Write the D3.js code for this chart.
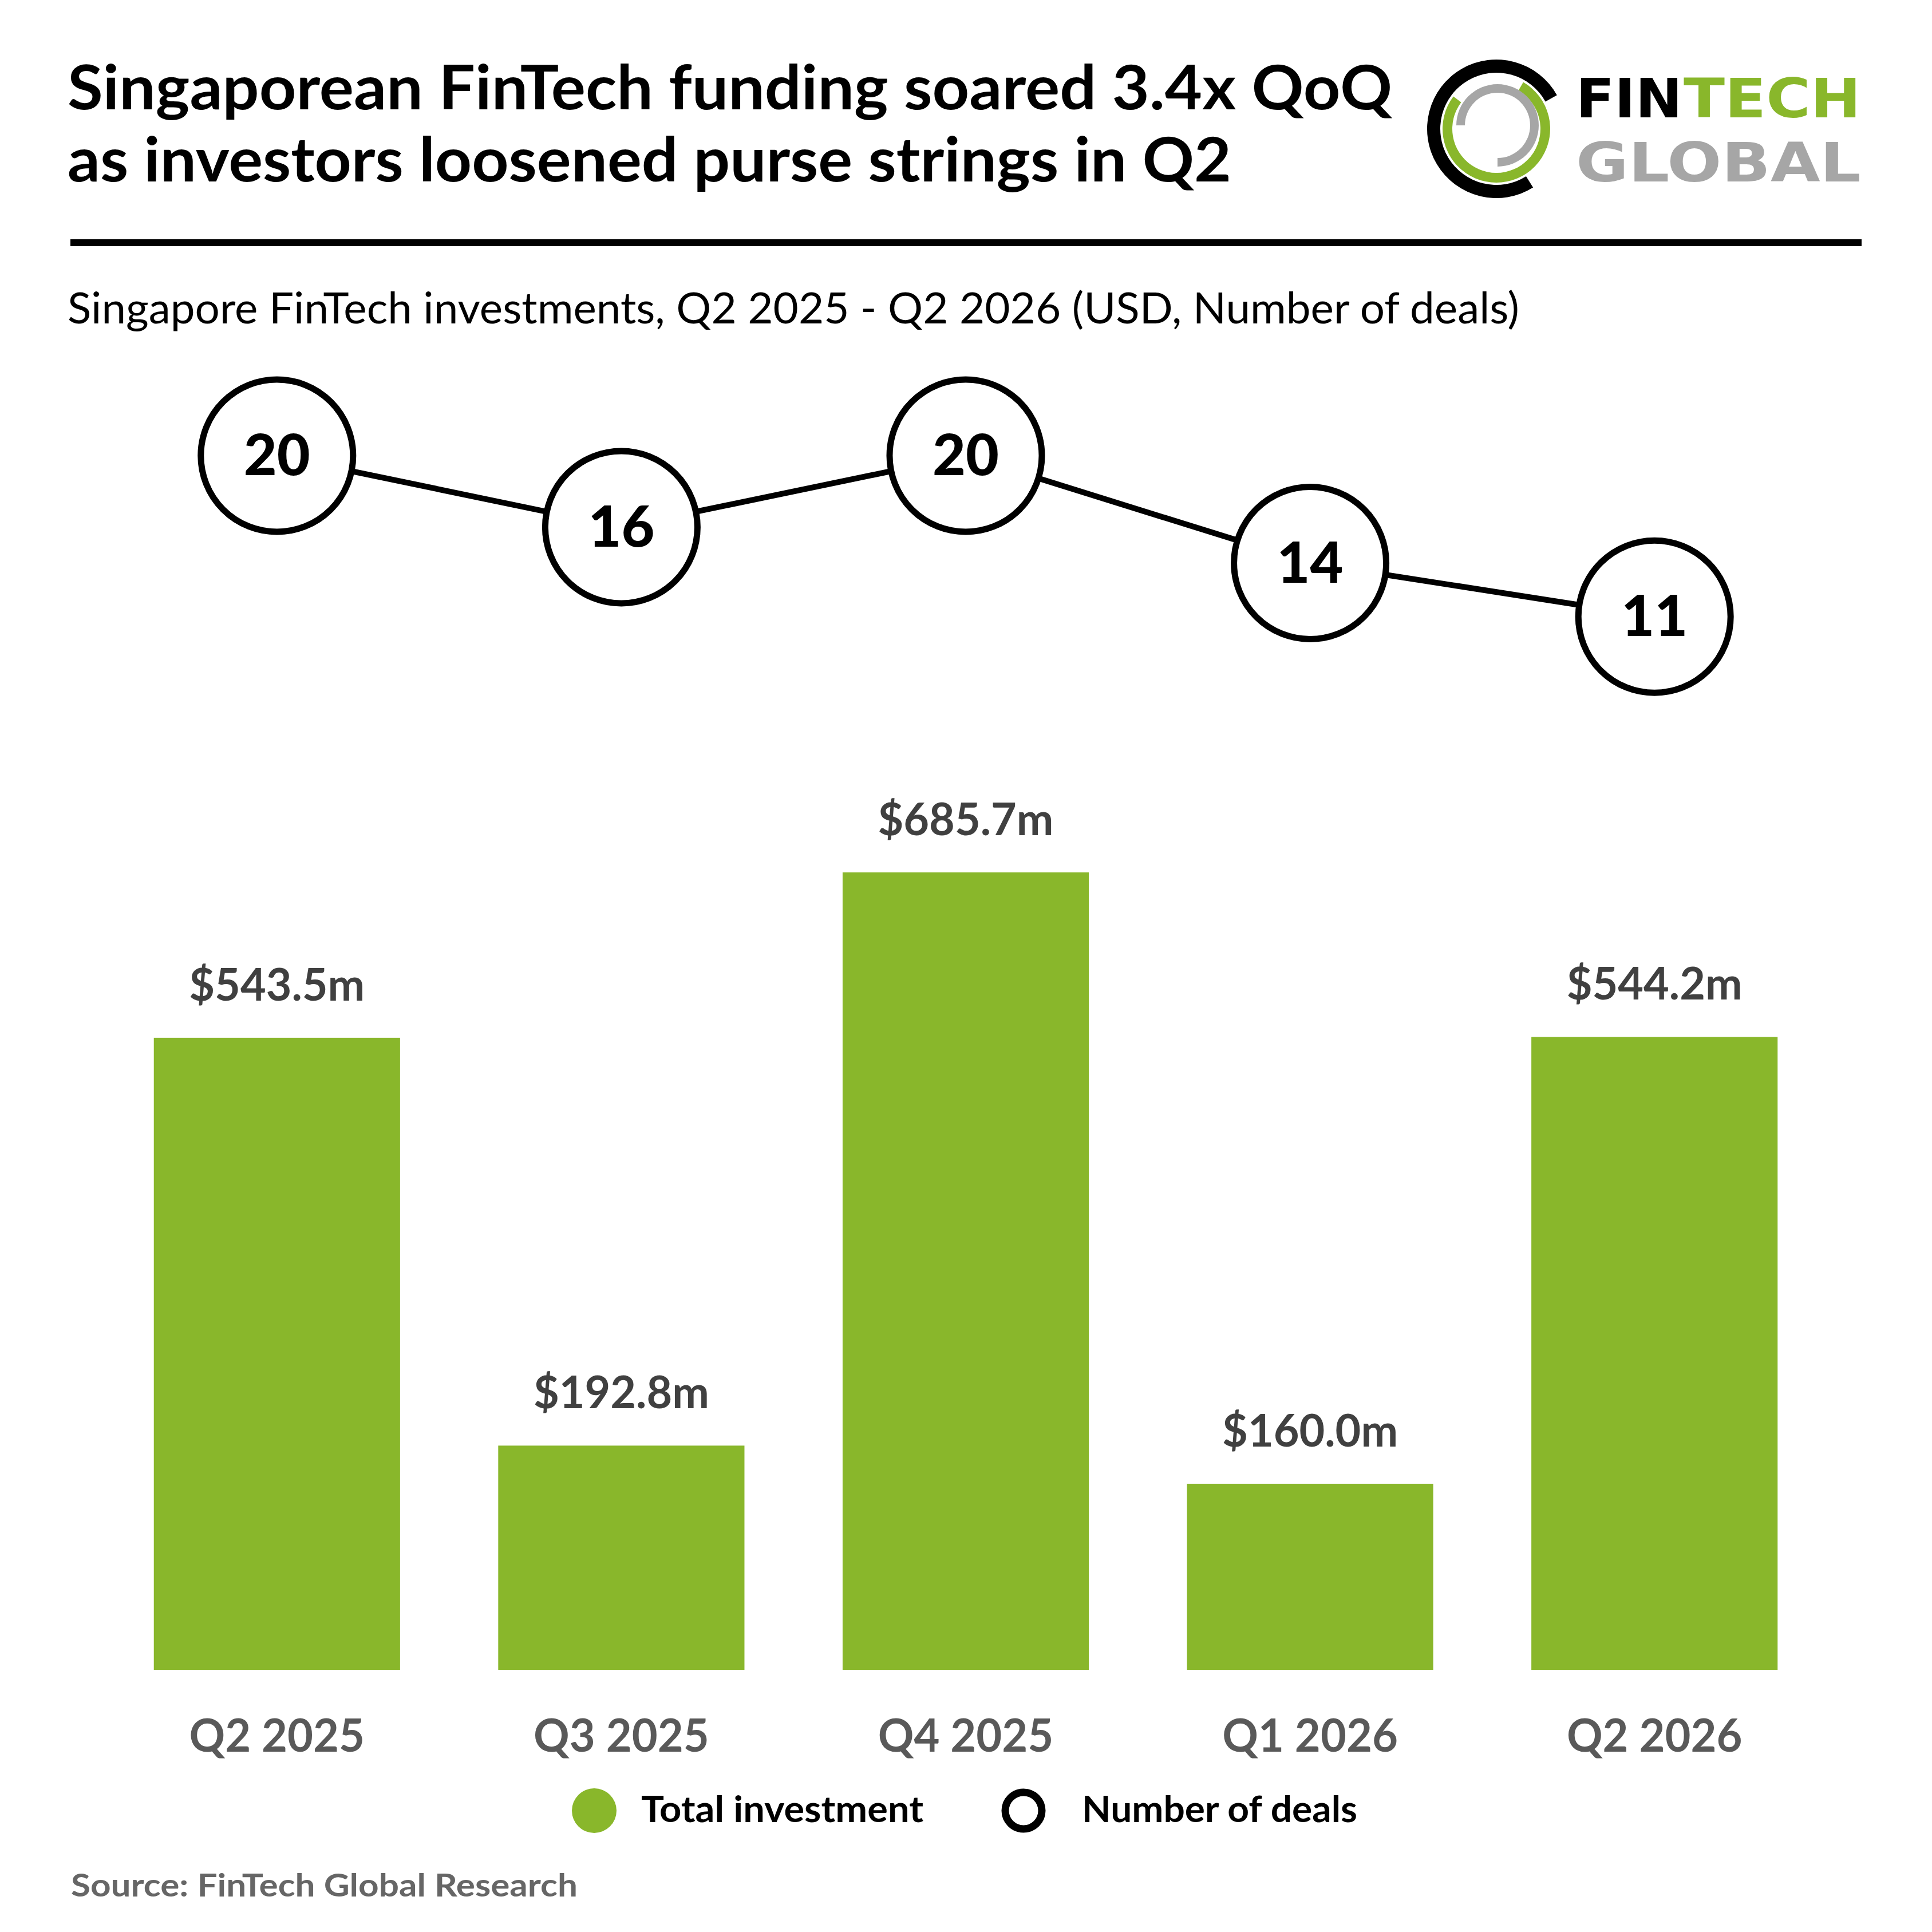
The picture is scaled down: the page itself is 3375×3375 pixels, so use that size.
<!DOCTYPE html>
<html>
<head>
<meta charset="utf-8">
<script src="https://cdn.jsdelivr.net/npm/d3@7"></script>
<style>
	body { margin: 0; background: #fff; }
	svg { display: block; }
</style>
</head>
<body>
<svg id="chart"></svg>
<script>
"use strict";

var quarters = ["Q2 2025", "Q3 2025", "Q4 2025", "Q1 2026", "Q2 2026"];
var investment = [543.5, 192.8, 685.7, 160.0, 544.2];
var deals = [20, 16, 20, 14, 11];
var titleLines = ["Singaporean FinTech funding soared 3.4x QoQ", "as investors loosened purse strings in Q2"];
var subtitle = "Singapore FinTech investments, Q2 2025 - Q2 2026 (USD, Number of deals)";
var legendItems = ["Total investment", "Number of deals"];
var source = "Source: FinTech Global Research";

var W = 3375, H = 3375,
	GREEN = "#89b72b",
	FONT = "Lato, 'Open Sans', sans-serif";

var svg = d3.select("#chart")
	.attr("width", W)
	.attr("height", H);

svg.append("rect")
	.attr("width", W)
	.attr("height", H)
	.attr("fill", "#fff");

/**
 * Squeeze a text selection horizontally to mimic a narrow font
 * @param  {Object} sel d3 selection of text nodes
 * @param  {Number} k   width factor
 * @return {Void}
 */
var squeeze = function (sel, k) {
	sel.each(function () {
		var w = this.getComputedTextLength();
		d3.select(this)
			.attr("textLength", w * k)
			.attr("lengthAdjust", "spacingAndGlyphs");
	});
};

// header
var title = svg.append("g").attr("class", "title");
title.selectAll("text")
	.data(titleLines)
	.join("text")
	.attr("x", 118)
	.attr("y", function (d, i) { return 191 + i * 126; })
	.attr("font-family", FONT)
	.attr("font-weight", 700)
	.attr("font-size", 107)
	.attr("fill", "#000")
	.attr("textLength", function (d, i) { return i === 0 ? 2314 : 2033; })
	.attr("lengthAdjust", "spacingAndGlyphs")
	.text(function (d) { return d; });

svg.append("rect")
	.attr("x", 123)
	.attr("y", 418)
	.attr("width", 3129)
	.attr("height", 12)
	.attr("fill", "#000");

svg.append("text")
	.attr("x", 118)
	.attr("y", 565)
	.attr("font-family", FONT)
	.attr("font-size", 75)
	.attr("fill", "#000")
	.attr("textLength", 2536)
	.attr("lengthAdjust", "spacingAndGlyphs")
	.text(subtitle);

// logo
var logo = svg.append("g").attr("transform", "translate(2614,225)");
var deg = Math.PI / 180;
var arc = d3.arc();
logo.append("path")
	.attr("d", arc({innerRadius: 98, outerRadius: 121, startAngle: 148 * deg, endAngle: 421 * deg}))
	.attr("fill", "#000");
logo.append("path")
	.attr("d", arc({innerRadius: 77, outerRadius: 94, startAngle: 30 * deg, endAngle: 307 * deg}))
	.attr("fill", GREEN);
logo.append("path")
	.attr("transform", "translate(2,-6)")
	.attr("d", arc({innerRadius: 57, outerRadius: 72, startAngle: -90 * deg, endAngle: 180 * deg}))
	.attr("fill", "#a6a6a6");

var logoWords = [
	{t: "FIN", x: 2753, y: 205, w: 186, c: "#000"},
	{t: "TECH", x: 2941, y: 205, w: 310, c: GREEN},
	{t: "GLOBAL", x: 2753, y: 317, w: 498, c: "#a6a6a6"}
];
svg.append("g")
	.selectAll("text")
	.data(logoWords)
	.join("text")
	.attr("x", function (d) { return d.x; })
	.attr("y", function (d) { return d.y; })
	.attr("font-family", "'DejaVu Sans', sans-serif")
	.attr("font-weight", 700)
	.attr("font-size", 95)
	.attr("fill", function (d) { return d.c; })
	.attr("textLength", function (d) { return d.w; })
	.attr("lengthAdjust", "spacingAndGlyphs")
	.text(function (d) { return d.t; });

// scales
var x = d3.scaleBand()
	.domain(quarters)
	.range([183, 3191])
	.paddingInner(0.285)
	.paddingOuter(0.1425);

var y = d3.scaleLinear()
	.domain([0, 685.7])
	.range([2917, 1524]);

var yDeals = d3.scaleLinear()
	.domain([0, 20])
	.range([1421, 796]);

var cx = function (d, i) { return x(quarters[i]) + x.bandwidth() / 2; };

// bars
svg.append("g")
	.selectAll("rect")
	.data(investment)
	.join("rect")
	.attr("x", function (d, i) { return x(quarters[i]); })
	.attr("y", function (d) { return y(d); })
	.attr("width", x.bandwidth())
	.attr("height", function (d) { return y(0) - y(d); })
	.attr("fill", GREEN);

var valueLabels = svg.append("g")
	.selectAll("text")
	.data(investment)
	.join("text")
	.attr("x", cx)
	.attr("y", function (d) { return y(d) - 65; })
	.attr("text-anchor", "middle")
	.attr("font-family", FONT)
	.attr("font-weight", 700)
	.attr("font-size", 78)
	.attr("fill", "#404040")
	.text(function (d) { return "$" + d3.format(".1f")(d) + "m"; });
squeeze(valueLabels, 0.99);

// x axis labels
var xAxis = svg.append("g")
	.attr("transform", "translate(0,3060)")
	.call(d3.axisBottom(x).tickSize(0).tickPadding(0));
xAxis.select(".domain").remove();
xAxis.selectAll("text")
	.attr("y", 0)
	.attr("dy", 0)
	.attr("font-family", FONT)
	.attr("font-weight", 700)
	.attr("font-size", 80)
	.attr("fill", "#595959");
squeeze(xAxis.selectAll("text"), 0.97);

// deals line + circles
var line = d3.line()
	.x(cx)
	.y(function (d) { return yDeals(d); });

svg.append("path")
	.datum(deals)
	.attr("d", line)
	.attr("fill", "none")
	.attr("stroke", "#000")
	.attr("stroke-width", 10);

var dots = svg.append("g")
	.selectAll("g")
	.data(deals)
	.join("g")
	.attr("transform", function (d, i) { return "translate(" + cx(d, i) + "," + yDeals(d) + ")"; });

dots.append("circle")
	.attr("r", 133)
	.attr("fill", "#fff")
	.attr("stroke", "#000")
	.attr("stroke-width", 11);

dots.append("text")
	.attr("y", 34)
	.attr("text-anchor", "middle")
	.attr("font-family", FONT)
	.attr("font-weight", 900)
	.attr("font-size", 100)
	.attr("fill", "#000")
	.text(function (d) { return d; });

// legend
var legend = svg.append("g");
legend.append("circle")
	.attr("cx", 1038)
	.attr("cy", 3163)
	.attr("r", 39)
	.attr("fill", GREEN);
legend.append("circle")
	.attr("cx", 1788)
	.attr("cy", 3163)
	.attr("r", 32)
	.attr("fill", "#fff")
	.attr("stroke", "#000")
	.attr("stroke-width", 13);
legend.selectAll("text")
	.data(legendItems)
	.join("text")
	.attr("x", function (d, i) { return i === 0 ? 1120 : 1890; })
	.attr("y", 3183)
	.attr("font-family", FONT)
	.attr("font-weight", 700)
	.attr("font-size", 64)
	.attr("fill", "#000")
	.attr("textLength", function (d, i) { return i === 0 ? 493 : 481; })
	.attr("lengthAdjust", "spacingAndGlyphs")
	.text(function (d) { return d; });

svg.append("text")
	.attr("x", 124)
	.attr("y", 3313)
	.attr("font-family", FONT)
	.attr("font-weight", 700)
	.attr("font-size", 56)
	.attr("fill", "#666")
	.attr("textLength", 885)
	.attr("lengthAdjust", "spacingAndGlyphs")
	.text(source);
</script>
</body>
</html>
